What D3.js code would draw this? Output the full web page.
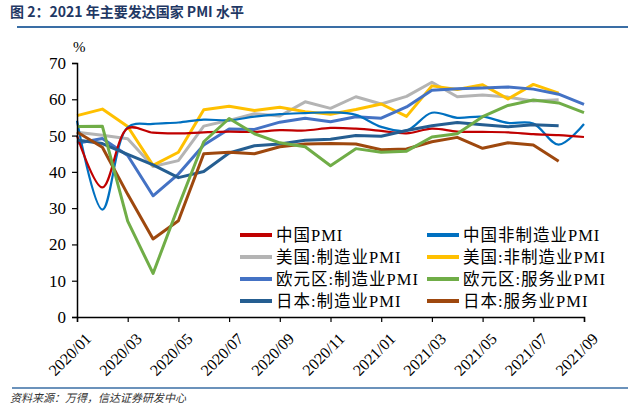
<!DOCTYPE html>
<html>
<head>
<meta charset="utf-8">
<script src="https://cdn.jsdelivr.net/npm/d3@7"></script>
<style>
  body { margin: 0; background: #fff; }
  svg { display: block; }
</style>
</head>
<body>
<div id="chart"></div>
<script>
// months 2020/01 .. 2021/09
var months = ["2020/01","2020/02","2020/03","2020/04","2020/05","2020/06","2020/07","2020/08","2020/09","2020/10","2020/11","2020/12",
              "2021/01","2021/02","2021/03","2021/04","2021/05","2021/06","2021/07","2021/08","2021/09"];
var tickLabels = ["2020/01","2020/03","2020/05","2020/07","2020/09","2020/11","2021/01","2021/03","2021/05","2021/07","2021/09"];
var yTicks = [0, 10, 20, 30, 40, 50, 60, 70];

var chinaPmi    = [50.0, 35.7, 52.0, 50.8, 50.6, 50.9, 51.1, 51.0, 51.5, 51.4, 52.1, 51.9, 51.3, 50.6, 51.9, 51.1, 51.0, 50.9, 50.4, 50.1, 49.6];
var chinaNonMfg = [54.1, 29.6, 52.3, 53.2, 53.6, 54.4, 54.2, 55.2, 55.9, 56.2, 56.4, 55.7, 52.4, 51.4, 56.3, 54.9, 55.2, 53.5, 53.3, 47.5, 53.2];
var usMfg       = [50.9, 50.1, 49.1, 41.5, 43.1, 52.6, 54.2, 56.0, 55.4, 59.3, 57.5, 60.7, 58.7, 60.8, 64.7, 60.7, 61.2, 60.6, 59.5, 59.9];
var usNonMfg    = [55.5, 57.3, 52.5, 41.8, 45.4, 57.1, 58.1, 56.9, 57.8, 56.6, 55.9, 57.2, 58.7, 55.3, 63.7, 62.7, 64.0, 60.1, 64.1, 61.7];
var euMfg       = [47.9, 49.2, 44.5, 33.4, 39.4, 47.4, 51.8, 51.7, 53.7, 54.8, 53.8, 55.2, 54.8, 57.9, 62.5, 62.9, 63.1, 63.4, 62.8, 61.4, 58.6];
var euServ      = [52.5, 52.6, 26.4, 12.0, 30.5, 48.3, 54.7, 50.5, 48.0, 46.9, 41.7, 46.4, 45.4, 45.7, 49.6, 50.5, 55.2, 58.3, 59.8, 59.0, 56.3];
var jpMfg       = [48.8, 47.8, 44.8, 41.9, 38.4, 40.1, 45.2, 47.2, 47.7, 48.7, 49.0, 50.0, 49.8, 51.4, 52.7, 53.6, 53.0, 52.4, 53.0, 52.7];
var jpServ      = [51.0, 46.8, 33.8, 21.5, 26.5, 45.0, 45.4, 45.0, 46.9, 47.7, 47.8, 47.7, 46.1, 46.3, 48.3, 49.5, 46.5, 48.0, 47.4, 42.9];

var seriesNames = ["中国PMI","中国非制造业PMI","美国:制造业PMI","美国:非制造业PMI","欧元区:制造业PMI","欧元区:服务业PMI","日本:制造业PMI","日本:服务业PMI"];
var seriesColors = ["#C00000","#0070C0","#B4B4B4","#FFC000","#4472C4","#70AD47","#255E91","#9E480E"];
var seriesData = [chinaPmi, chinaNonMfg, usMfg, usNonMfg, euMfg, euServ, jpMfg, jpServ];
var smoothed = [true, true, false, false, false, false, false, false];
// draw order (back to front)
var drawOrder = [2, 3, 4, 1, 0, 6, 7, 5];

var W = 642, H = 420;
var svg = d3.select("#chart").append("svg")
    .attr("width", W)
    .attr("height", H);

// title + rules
svg.append("text")
    .attr("x", 10).attr("y", 17)
    .attr("font-family", "'Noto Sans CJK SC', sans-serif")
    .attr("font-weight", "bold")
    .attr("font-size", 14)
    .attr("fill", "#1F3864")
    .text("图 2：2021 年主要发达国家 PMI 水平");

svg.append("line")
    .attr("x1", 17).attr("x2", 628).attr("y1", 27).attr("y2", 27)
    .attr("stroke", "#3A6EA5").attr("stroke-width", 2);

svg.append("line")
    .attr("x1", 12).attr("x2", 628).attr("y1", 388).attr("y2", 388)
    .attr("stroke", "#3A6EA5").attr("stroke-width", 1.5);

svg.append("text")
    .attr("x", 10).attr("y", 402)
    .attr("font-family", "'Noto Sans CJK SC', sans-serif")
    .attr("font-style", "italic")
    .attr("font-size", 11)
    .attr("fill", "#333")
    .text("资料来源：万得，信达证券研发中心");

var x = d3.scaleLinear().domain([0, months.length - 1]).range([77, 584]);
var y = d3.scaleLinear().domain([0, 70]).range([317, 63]);

var serif = "'Liberation Serif', 'Times New Roman', 'Noto Sans CJK SC', serif";

// lines
var g = svg.append("g");
drawOrder.forEach(function(k) {
    var line = d3.line()
        .x(function(d, i) { return x(i); })
        .y(function(d) { return y(d); })
        .curve(smoothed[k] ? d3.curveCatmullRom.alpha(0.5) : d3.curveLinear);
    g.append("path")
        .datum(seriesData[k])
        .attr("d", line)
        .attr("fill", "none")
        .attr("stroke", seriesColors[k])
        .attr("stroke-width", smoothed[k] ? 2.2 : 3)
        .attr("stroke-linejoin", "round");
});

// y axis
var yAxis = d3.axisLeft(y).tickValues(yTicks).tickSize(5).tickPadding(6);
var ya = svg.append("g").attr("transform", "translate(77,0)").call(yAxis);
ya.select(".domain").attr("stroke", "#000").attr("stroke-width", 1.5);
ya.selectAll(".tick line").attr("stroke", "#000").attr("stroke-width", 1.2);
ya.selectAll(".tick text")
    .attr("font-family", serif).attr("font-size", 17).attr("fill", "#000");

svg.append("text")
    .attr("x", 73).attr("y", 52)
    .attr("font-family", serif).attr("font-size", 15)
    .text("%");

// x axis
var tickIdx = tickLabels.map(function(t) { return months.indexOf(t); });
var xAxis = d3.axisBottom(x).tickValues(tickIdx)
    .tickFormat(function(d) { return months[d]; })
    .tickSize(5).tickPadding(4);
var xa = svg.append("g").attr("transform", "translate(0,317)").call(xAxis);
xa.select(".domain").attr("stroke", "#000").attr("stroke-width", 1.5);
xa.selectAll(".tick line").attr("stroke", "#000").attr("stroke-width", 1.2);
xa.selectAll(".tick text")
    .attr("font-family", serif).attr("font-size", 16).attr("fill", "#000")
    .attr("text-anchor", "end")
    .attr("dy", "0.3em")
    .attr("transform", "translate(5,13) rotate(-45)");

// legend
var legend = svg.append("g");
seriesNames.forEach(function(name, i) {
    var col = i % 2, row = Math.floor(i / 2);
    var lx = col === 0 ? 240 : 427;
    var ly = 235 + row * 22;
    legend.append("line")
        .attr("x1", lx).attr("x2", lx + 32)
        .attr("y1", ly).attr("y2", ly)
        .attr("stroke", seriesColors[i]).attr("stroke-width", 4);
    legend.append("text")
        .attr("x", lx + 36).attr("y", ly + 6)
        .attr("font-family", serif).attr("font-size", 16.5)
        .attr("letter-spacing", 1)
        .attr("fill", "#000")
        .text(name);
});
</script>
</body>
</html>
